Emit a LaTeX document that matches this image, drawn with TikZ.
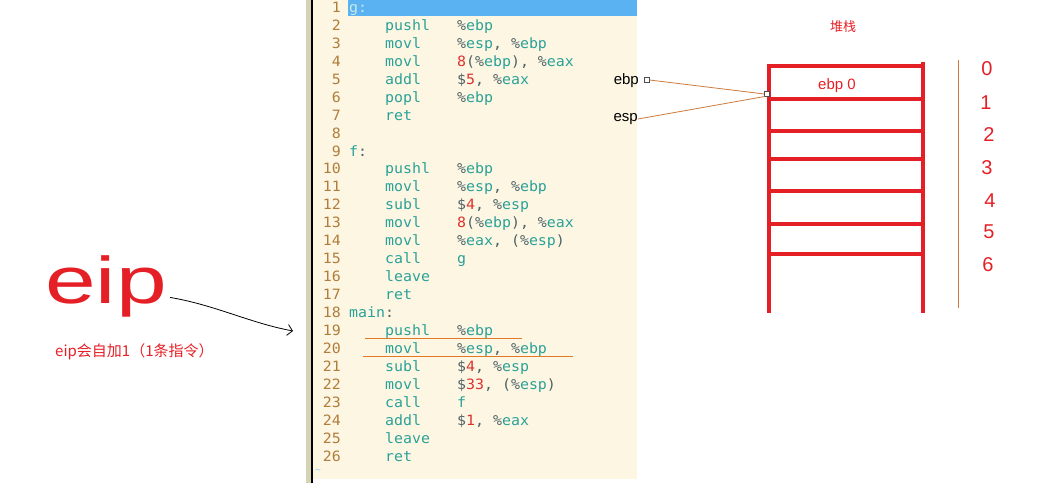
\documentclass[tikz,border=0pt]{standalone}
\usepackage{fontspec}
\setmainfont{Liberation Sans}
\newfontfamily\codefont[FakeStretch=1.05]{DejaVu Sans Mono}
\newfontfamily\cjkfont{Noto Sans CJK SC}
\usetikzlibrary{arrows.meta}
\definecolor{cream}{HTML}{FDF6E3}
\definecolor{khaki}{HTML}{D6D2B4}
\definecolor{hlblue}{HTML}{5AB2F2}
\definecolor{lnumcol}{HTML}{B07D3A}
\definecolor{codeteal}{HTML}{2AA198}
\definecolor{codered}{HTML}{DC322F}
\definecolor{codedark}{HTML}{4E6266}
\definecolor{stackred}{HTML}{E51F26}
\definecolor{ptrorange}{HTML}{CD7A3C}
\definecolor{ulorange}{HTML}{E07828}
\newcommand\cR[1]{\textcolor{codered}{#1}}
\newcommand\cT[1]{\textcolor{codeteal}{#1}}
\newcommand\cD[1]{\textcolor{codedark}{#1}}
\newcommand\rg[1]{\cD{\%}\cT{#1}}
\newcommand\lineY[1]{12.5+(#1-1)*17.94}
\begin{document}
\begin{tikzpicture}[x=1pt,y=-1pt,
  codefnt/.style={font=\codefont\fontsize{14.2}{16}\selectfont},
  code/.style={codefnt,anchor=base west,inner sep=0pt},
  lnum/.style={codefnt,anchor=base east,inner sep=0pt,text=lnumcol},
  sq/.style={draw=black!70,fill=white,minimum size=4.5pt,inner sep=0pt,line width=0.6pt},
  ptr/.style={draw=ptrorange,line width=0.8pt},
  stk/.style={draw=stackred,line width=4pt},
  hand/.style={text=stackred,font=\fontsize{20}{20}\selectfont,inner sep=0pt},
  lbl/.style={font=\fontsize{15}{15}\selectfont,inner sep=0pt}]
\useasboundingbox (0,0) rectangle (1046,494);
% editor panel
\fill[cream] (313,0) rectangle (637,479);
\fill[khaki] (306,0) rectangle (311,483);
\fill[black] (311,0) rectangle (313,483);
\fill[hlblue] (348,0) rectangle (637,16);
\node[text=hlblue!70!white,font=\fontsize{10}{10}\selectfont,inner sep=0pt] (tilde) at (318,472) {\textasciitilde};
% line numbers
\foreach \n in {1,...,26} \node[lnum] (ln\n) at (341,{\lineY{\n}}) {\n};
% code
\node[code] (c1) at (349,{\lineY{1}}) {\textcolor{white!75!codeteal}{g:}};
\node[code] (m2) at (385,{\lineY{2}}) {\cT{pushl}};
\node[code] (o2) at (457,{\lineY{2}}) {\rg{ebp}};
\node[code] (m3) at (385,{\lineY{3}}) {\cT{movl}};
\node[code] (o3) at (457,{\lineY{3}}) {\rg{esp}\cD{,} \rg{ebp}};
\node[code] (m4) at (385,{\lineY{4}}) {\cT{movl}};
\node[code] (o4) at (457,{\lineY{4}}) {\cR{8}\cD{(}\rg{ebp}\cD{),} \rg{eax}};
\node[code] (m5) at (385,{\lineY{5}}) {\cT{addl}};
\node[code] (o5) at (457,{\lineY{5}}) {\cD{\$}\cR{5}\cD{,} \rg{eax}};
\node[code] (m6) at (385,{\lineY{6}}) {\cT{popl}};
\node[code] (o6) at (457,{\lineY{6}}) {\rg{ebp}};
\node[code] (m7) at (385,{\lineY{7}}) {\cT{ret}};
\node[code] (c9) at (349,{\lineY{9}}) {\cT{f}\cD{:}};
\node[code] (m10) at (385,{\lineY{10}}) {\cT{pushl}};
\node[code] (o10) at (457,{\lineY{10}}) {\rg{ebp}};
\node[code] (m11) at (385,{\lineY{11}}) {\cT{movl}};
\node[code] (o11) at (457,{\lineY{11}}) {\rg{esp}\cD{,} \rg{ebp}};
\node[code] (m12) at (385,{\lineY{12}}) {\cT{subl}};
\node[code] (o12) at (457,{\lineY{12}}) {\cD{\$}\cR{4}\cD{,} \rg{esp}};
\node[code] (m13) at (385,{\lineY{13}}) {\cT{movl}};
\node[code] (o13) at (457,{\lineY{13}}) {\cR{8}\cD{(}\rg{ebp}\cD{),} \rg{eax}};
\node[code] (m14) at (385,{\lineY{14}}) {\cT{movl}};
\node[code] (o14) at (457,{\lineY{14}}) {\rg{eax}\cD{, (}\rg{esp}\cD{)}};
\node[code] (m15) at (385,{\lineY{15}}) {\cT{call}};
\node[code] (o15) at (457,{\lineY{15}}) {\cT{g}};
\node[code] (m16) at (385,{\lineY{16}}) {\cT{leave}};
\node[code] (m17) at (385,{\lineY{17}}) {\cT{ret}};
\node[code] (c18) at (349,{\lineY{18}}) {\cT{main}\cD{:}};
\node[code] (m19) at (385,{\lineY{19}}) {\cT{pushl}};
\node[code] (o19) at (457,{\lineY{19}}) {\rg{ebp}};
\node[code] (m20) at (385,{\lineY{20}}) {\cT{movl}};
\node[code] (o20) at (457,{\lineY{20}}) {\rg{esp}\cD{,} \rg{ebp}};
\node[code] (m21) at (385,{\lineY{21}}) {\cT{subl}};
\node[code] (o21) at (457,{\lineY{21}}) {\cD{\$}\cR{4}\cD{,} \rg{esp}};
\node[code] (m22) at (385,{\lineY{22}}) {\cT{movl}};
\node[code] (o22) at (457,{\lineY{22}}) {\cD{\$}\cR{33}\cD{, (}\rg{esp}\cD{)}};
\node[code] (m23) at (385,{\lineY{23}}) {\cT{call}};
\node[code] (o23) at (457,{\lineY{23}}) {\cT{f}};
\node[code] (m24) at (385,{\lineY{24}}) {\cT{addl}};
\node[code] (o24) at (457,{\lineY{24}}) {\cD{\$}\cR{1}\cD{,} \rg{eax}};
\node[code] (m25) at (385,{\lineY{25}}) {\cT{leave}};
\node[code] (m26) at (385,{\lineY{26}}) {\cT{ret}};
% underlines
\draw[ulorange,line width=0.9pt] (365,338) -- (522,338);
\draw[ulorange,line width=0.9pt] (363,356) -- (573,356);
% stack
\node[text=stackred,font=\cjkfont\fontsize{13}{13}\selectfont,inner sep=0pt] (title) at (843,27) {堆栈};
\draw[stk] (769,64) -- (769,313);
\draw[stk] (923,62) -- (923,313);
\foreach \yy in {66,99,131,159,191,224,254} \draw[stk] (767,\yy) -- (925,\yy);
\node[text=stackred,lbl] (ebp0) at (837,86) {ebp 0};
% pointers
\node[lbl,anchor=east] (ebplbl) at (639,81) {ebp};
\node[lbl,anchor=east] (esplbl) at (638,119) {esp};
\node[sq] (ebpsq) at (647,80) {};
\node[sq] (stksq) at (767,94) {};
\draw[ptr] (ebpsq.east) -- (stksq.west);
\draw[ptr] (esplbl.east) -- (stksq.south west);
% index column
\draw[ptrorange,line width=1pt] (958,60) -- (958,308);
\node[hand] (h0) at (987,69) {0};
\node[hand] (h1) at (986,103) {1};
\node[hand] (h2) at (989,135) {2};
\node[hand] (h3) at (987,168) {3};
\node[hand] (h4) at (990,201) {4};
\node[hand] (h5) at (989,232) {5};
\node[hand] (h6) at (988,265) {6};
% eip
\node[text=stackred,font=\fontsize{66}{66}\selectfont,inner sep=0pt,anchor=base west,xscale=1.38] (eip) at (45,303) {eip};
\coordinate (eipend) at (293,331);
\draw[black,line width=0.8pt,-{Straight Barb[length=5pt,width=11pt]}] ([xshift=3pt,yshift=-11.5pt]eip.east) .. controls (215,305) and (250,323) .. (eipend);
\node[text=stackred,font=\cjkfont\fontsize{15}{15}\selectfont,inner sep=0pt,anchor=west] (eipnote) at (55,352) {eip会自加1（1条指令）};
\end{tikzpicture}
\end{document}
